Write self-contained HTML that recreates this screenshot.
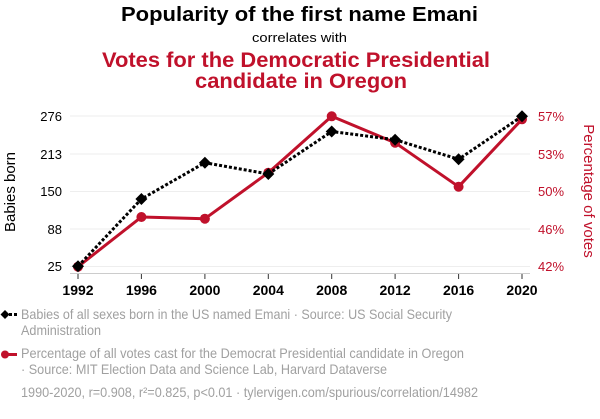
<!DOCTYPE html>
<html><head><meta charset="utf-8"><style>
html,body{margin:0;padding:0;background:#fff;}
body{width:600px;height:414px;overflow:hidden;font-family:"Liberation Sans",Arial,sans-serif;}
</style></head><body>
<svg width="600" height="414" xmlns="http://www.w3.org/2000/svg" font-family="Liberation Sans, Arial, sans-serif">
<text x="121" y="21" font-size="20" font-weight="bold" fill="#000" textLength="357" lengthAdjust="spacingAndGlyphs">Popularity of the first name Emani</text>
<text x="252" y="42" font-size="13" fill="#000" textLength="95" lengthAdjust="spacingAndGlyphs">correlates with</text>
<text x="102" y="67" font-size="21" font-weight="bold" fill="#c0112b" textLength="388" lengthAdjust="spacingAndGlyphs">Votes for the Democratic Presidential</text>
<text x="195" y="88" font-size="21" font-weight="bold" fill="#c0112b" textLength="212" lengthAdjust="spacingAndGlyphs">candidate in Oregon</text>
<g stroke="#eeeeee" stroke-width="1">
<line x1="70" y1="116" x2="530" y2="116"/>
<line x1="70" y1="154" x2="530" y2="154"/>
<line x1="70" y1="191.5" x2="530" y2="191.5"/>
<line x1="70" y1="229" x2="530" y2="229"/>
<line x1="70" y1="266.5" x2="530" y2="266.5"/>
</g>
<line x1="70" y1="273.5" x2="530" y2="273.5" stroke="#ccc" stroke-width="1"/>
<g stroke="#333" stroke-width="1">
<line x1="78" y1="274" x2="78" y2="279"/><line x1="141.4" y1="274" x2="141.4" y2="279"/>
<line x1="204.9" y1="274" x2="204.9" y2="279"/><line x1="268.3" y1="274" x2="268.3" y2="279"/>
<line x1="331.7" y1="274" x2="331.7" y2="279"/><line x1="395.1" y1="274" x2="395.1" y2="279"/>
<line x1="458.6" y1="274" x2="458.6" y2="279"/><line x1="522" y1="274" x2="522" y2="279"/>
</g>
<g font-size="13" fill="#000" text-anchor="end">
<text x="62" y="121">276</text><text x="62" y="159">213</text><text x="62" y="196">150</text><text x="62" y="234">88</text><text x="62" y="271">25</text>
</g>
<g font-size="13" fill="#c0112b" text-anchor="start">
<text x="538" y="121">57%</text><text x="538" y="159">53%</text><text x="538" y="196">50%</text><text x="538" y="234">46%</text><text x="538" y="271">42%</text>
</g>
<g font-size="14" font-weight="bold" fill="#000" text-anchor="middle">
<text x="78" y="295">1992</text><text x="141.4" y="295">1996</text><text x="204.9" y="295">2000</text><text x="268.3" y="295">2004</text>
<text x="331.7" y="295">2008</text><text x="395.1" y="295">2012</text><text x="458.6" y="295">2016</text><text x="522" y="295">2020</text>
</g>
<text transform="translate(15,192) rotate(-90)" text-anchor="middle" font-size="15" fill="#000">Babies born</text>
<text transform="translate(584,191) rotate(90)" text-anchor="middle" font-size="15" fill="#c0112b">Percentage of votes</text>
<polyline fill="none" stroke="#c0112b" stroke-width="3" stroke-linejoin="round" points="78,266.7 141.4,217 204.9,218.7 268.3,172.7 331.7,116.3 395.1,142.7 458.6,186.7 522,119.3"/>
<g fill="#c0112b">
<circle cx="78" cy="266.7" r="5"/><circle cx="141.4" cy="217" r="5"/><circle cx="204.9" cy="218.7" r="5"/><circle cx="268.3" cy="172.7" r="5"/>
<circle cx="331.7" cy="116.3" r="5"/><circle cx="395.1" cy="142.7" r="5"/><circle cx="458.6" cy="186.7" r="5"/><circle cx="522" cy="119.3" r="5"/>
</g>
<polyline fill="none" stroke="#000" stroke-width="3" stroke-dasharray="3,2" points="78,266.3 141.4,199 204.9,162.7 268.3,174 331.7,131.5 395.1,139.7 458.6,159.3 522,116.3"/>
<g fill="#000">
<path d="M78,260.3 L84,266.3 L78,272.3 L72,266.3Z"/>
<path d="M141.4,193 L147.4,199 L141.4,205 L135.4,199Z"/>
<path d="M204.9,156.7 L210.9,162.7 L204.9,168.7 L198.9,162.7Z"/>
<path d="M268.3,168 L274.3,174 L268.3,180 L262.3,174Z"/>
<path d="M331.7,125.5 L337.7,131.5 L331.7,137.5 L325.7,131.5Z"/>
<path d="M395.1,133.7 L401.1,139.7 L395.1,145.7 L389.1,139.7Z"/>
<path d="M458.6,153.3 L464.6,159.3 L458.6,165.3 L452.6,159.3Z"/>
<path d="M522,110.3 L528,116.3 L522,122.3 L516,116.3Z"/>
</g>
<line x1="4" y1="314.5" x2="19" y2="314.5" stroke="#000" stroke-width="3" stroke-dasharray="3,2"/>
<path d="M5,310 L9.5,314.5 L5,319 L0.5,314.5Z" fill="#000"/>
<line x1="3" y1="354.5" x2="17" y2="354.5" stroke="#c0112b" stroke-width="3"/>
<circle cx="5" cy="354.5" r="4" fill="#c0112b"/>
<g font-size="14" fill="#a0a0a0">
<text x="21" y="319" textLength="431" lengthAdjust="spacingAndGlyphs">Babies of all sexes born in the US named Emani · Source: US Social Security</text>
<text x="21" y="335" textLength="80" lengthAdjust="spacingAndGlyphs">Administration</text>
<text x="21" y="358" textLength="443" lengthAdjust="spacingAndGlyphs">Percentage of all votes cast for the Democrat Presidential candidate in Oregon</text>
<text x="21" y="374" textLength="366" lengthAdjust="spacingAndGlyphs">· Source: MIT Election Data and Science Lab, Harvard Dataverse</text>
<text x="21" y="397" textLength="457" lengthAdjust="spacingAndGlyphs">1990-2020, r=0.908, r²=0.825, p&lt;0.01 · tylervigen.com/spurious/correlation/14982</text>
</g>
</svg>
</body></html>
